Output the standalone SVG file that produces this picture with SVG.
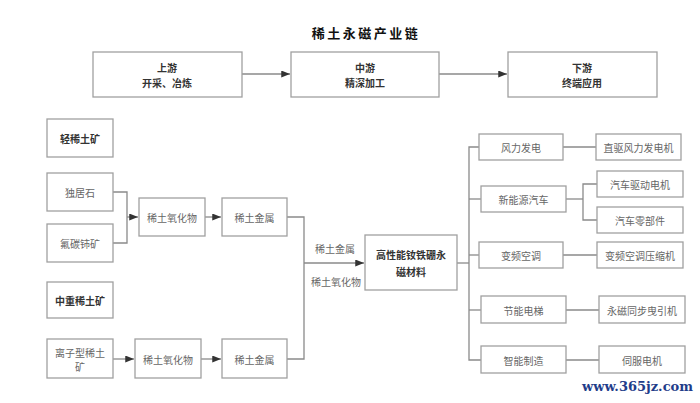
<svg xmlns="http://www.w3.org/2000/svg" width="700" height="403" viewBox="0 0 700 403">
<style>
.box{fill:#fff;stroke:#a0a0a0;stroke-width:1.3}
.t{font-family:"Noto Sans CJK SC","Liberation Sans",sans-serif;font-size:10px;fill:#666;text-anchor:middle;dominant-baseline:central}
.b{font-weight:bold;fill:#333}
.ln{fill:none;stroke:#8a8a8a;stroke-width:1.3}
</style>
<defs>
<marker id="ah" viewBox="0 0 10 8" refX="10" refY="4" markerWidth="9" markerHeight="7" markerUnits="userSpaceOnUse" orient="auto">
<path d="M0,0 L10,4 L0,8 z" fill="#333"/>
</marker>
</defs>
<rect width="700" height="403" fill="#fff"/>
<text x="366" y="32" style="font-family:'Noto Sans CJK SC',sans-serif;font-size:13px;font-weight:bold;fill:#111;text-anchor:middle;dominant-baseline:central;letter-spacing:2.5px">稀土永磁产业链</text>

<g id="connectors">
<path class="ln" d="M242,74 H290" marker-end="url(#ah)"/>
<path class="ln" d="M439,74 H507" marker-end="url(#ah)"/>
<path class="ln" d="M113,192 H127 V243 H113"/>
<path class="ln" d="M127,217 H138" marker-end="url(#ah)"/>
<path class="ln" d="M205,217 H221" marker-end="url(#ah)"/>
<path class="ln" d="M287,217 H304 V359 H287"/>
<path class="ln" d="M304,263 H364" marker-end="url(#ah)"/>
<path class="ln" d="M113,359 H134" marker-end="url(#ah)"/>
<path class="ln" d="M201,359 H221" marker-end="url(#ah)"/>
<path class="ln" d="M457,263 H469"/>
<path class="ln" d="M479,147 H469 V360 H481"/>
<path class="ln" d="M469,199 H481"/>
<path class="ln" d="M469,255 H479"/>
<path class="ln" d="M469,310 H481"/>
<path class="ln" d="M563,147 H596"/>
<path class="ln" d="M566,199 H583"/>
<path class="ln" d="M597,184 H583 V220 H597"/>
<path class="ln" d="M563,255 H597"/>
<path class="ln" d="M566,310 H599"/>
<path class="ln" d="M566,360 H599"/>
</g>

<g id="upstream"><rect class="box" x="93" y="52" width="149" height="45"/><text class="t b" x="167" y="67">上游</text><text class="t b" x="167" y="82">开采、冶炼</text></g>
<g id="midstream"><rect class="box" x="291" y="52" width="148" height="45"/><text class="t b" x="365" y="67">中游</text><text class="t b" x="365" y="82">精深加工</text></g>
<g id="downstream"><rect class="box" x="508" y="52" width="149" height="45"/><text class="t b" x="582" y="67">下游</text><text class="t b" x="582" y="82">终端应用</text></g>

<g id="light"><rect class="box" x="47" y="119" width="66" height="38"/><text class="t b" x="80" y="138">轻稀土矿</text></g>
<g id="monazite"><rect class="box" x="47" y="173" width="66" height="38"/><text class="t" x="80" y="192">独居石</text></g>
<g id="bastnasite"><rect class="box" x="47" y="224" width="66" height="38"/><text class="t" x="80" y="243">氟碳铈矿</text></g>
<g id="oxide1"><rect class="box" x="139" y="198" width="66" height="38"/><text class="t" x="172" y="217">稀土氧化物</text></g>
<g id="metal1"><rect class="box" x="222" y="198" width="65" height="38"/><text class="t" x="254.5" y="217">稀土金属</text></g>
<g id="heavy"><rect class="box" x="47" y="282" width="66" height="36"/><text class="t b" x="80" y="300">中重稀土矿</text></g>
<g id="ionic"><rect class="box" x="47" y="339" width="66" height="39"/><text class="t" x="80" y="352">离子型稀土</text><text class="t" x="80" y="366">矿</text></g>
<g id="oxide2"><rect class="box" x="135" y="339" width="66" height="39"/><text class="t" x="168" y="359">稀土氧化物</text></g>
<g id="metal2"><rect class="box" x="222" y="339" width="65" height="39"/><text class="t" x="254.5" y="359">稀土金属</text></g>

<text class="t" x="335" y="248">稀土金属</text>
<text class="t" x="336" y="281">稀土氧化物</text>

<g id="ndfeb"><rect class="box" x="365" y="235" width="92" height="55"/><text class="t b" x="411" y="254">高性能钕铁硼永</text><text class="t b" x="411" y="271">磁材料</text></g>

<g id="wind"><rect class="box" x="479" y="134" width="84" height="26"/><text class="t" x="521" y="147">风力发电</text></g>
<g id="nev"><rect class="box" x="481" y="186" width="85" height="26"/><text class="t" x="523.5" y="199">新能源汽车</text></g>
<g id="ac"><rect class="box" x="479" y="242" width="84" height="26"/><text class="t" x="521" y="255">变频空调</text></g>
<g id="elevator"><rect class="box" x="481" y="296" width="85" height="27"/><text class="t" x="523.5" y="310">节能电梯</text></g>
<g id="mfg"><rect class="box" x="481" y="346" width="85" height="27"/><text class="t" x="523.5" y="360">智能制造</text></g>

<g id="windgen"><rect class="box" x="596" y="134" width="85" height="26"/><text class="t" x="638.5" y="147">直驱风力发电机</text></g>
<g id="drive"><rect class="box" x="597" y="171" width="86" height="26"/><text class="t" x="640" y="184">汽车驱动电机</text></g>
<g id="parts"><rect class="box" x="597" y="207" width="86" height="26"/><text class="t" x="640" y="220">汽车零部件</text></g>
<g id="compressor"><rect class="box" x="597" y="242" width="86" height="26"/><text class="t" x="640" y="255">变频空调压缩机</text></g>
<g id="traction"><rect class="box" x="599" y="296" width="86" height="27"/><text class="t" x="642" y="310">永磁同步曳引机</text></g>
<g id="servo"><rect class="box" x="599" y="346" width="86" height="27"/><text class="t" x="642" y="360">伺服电机</text></g>

<text x="693" y="391" style="font-family:'DejaVu Serif',serif;font-size:13px;font-weight:bold;fill:#1f3d8a;text-anchor:end">www.365jz.com</text>
</svg>
